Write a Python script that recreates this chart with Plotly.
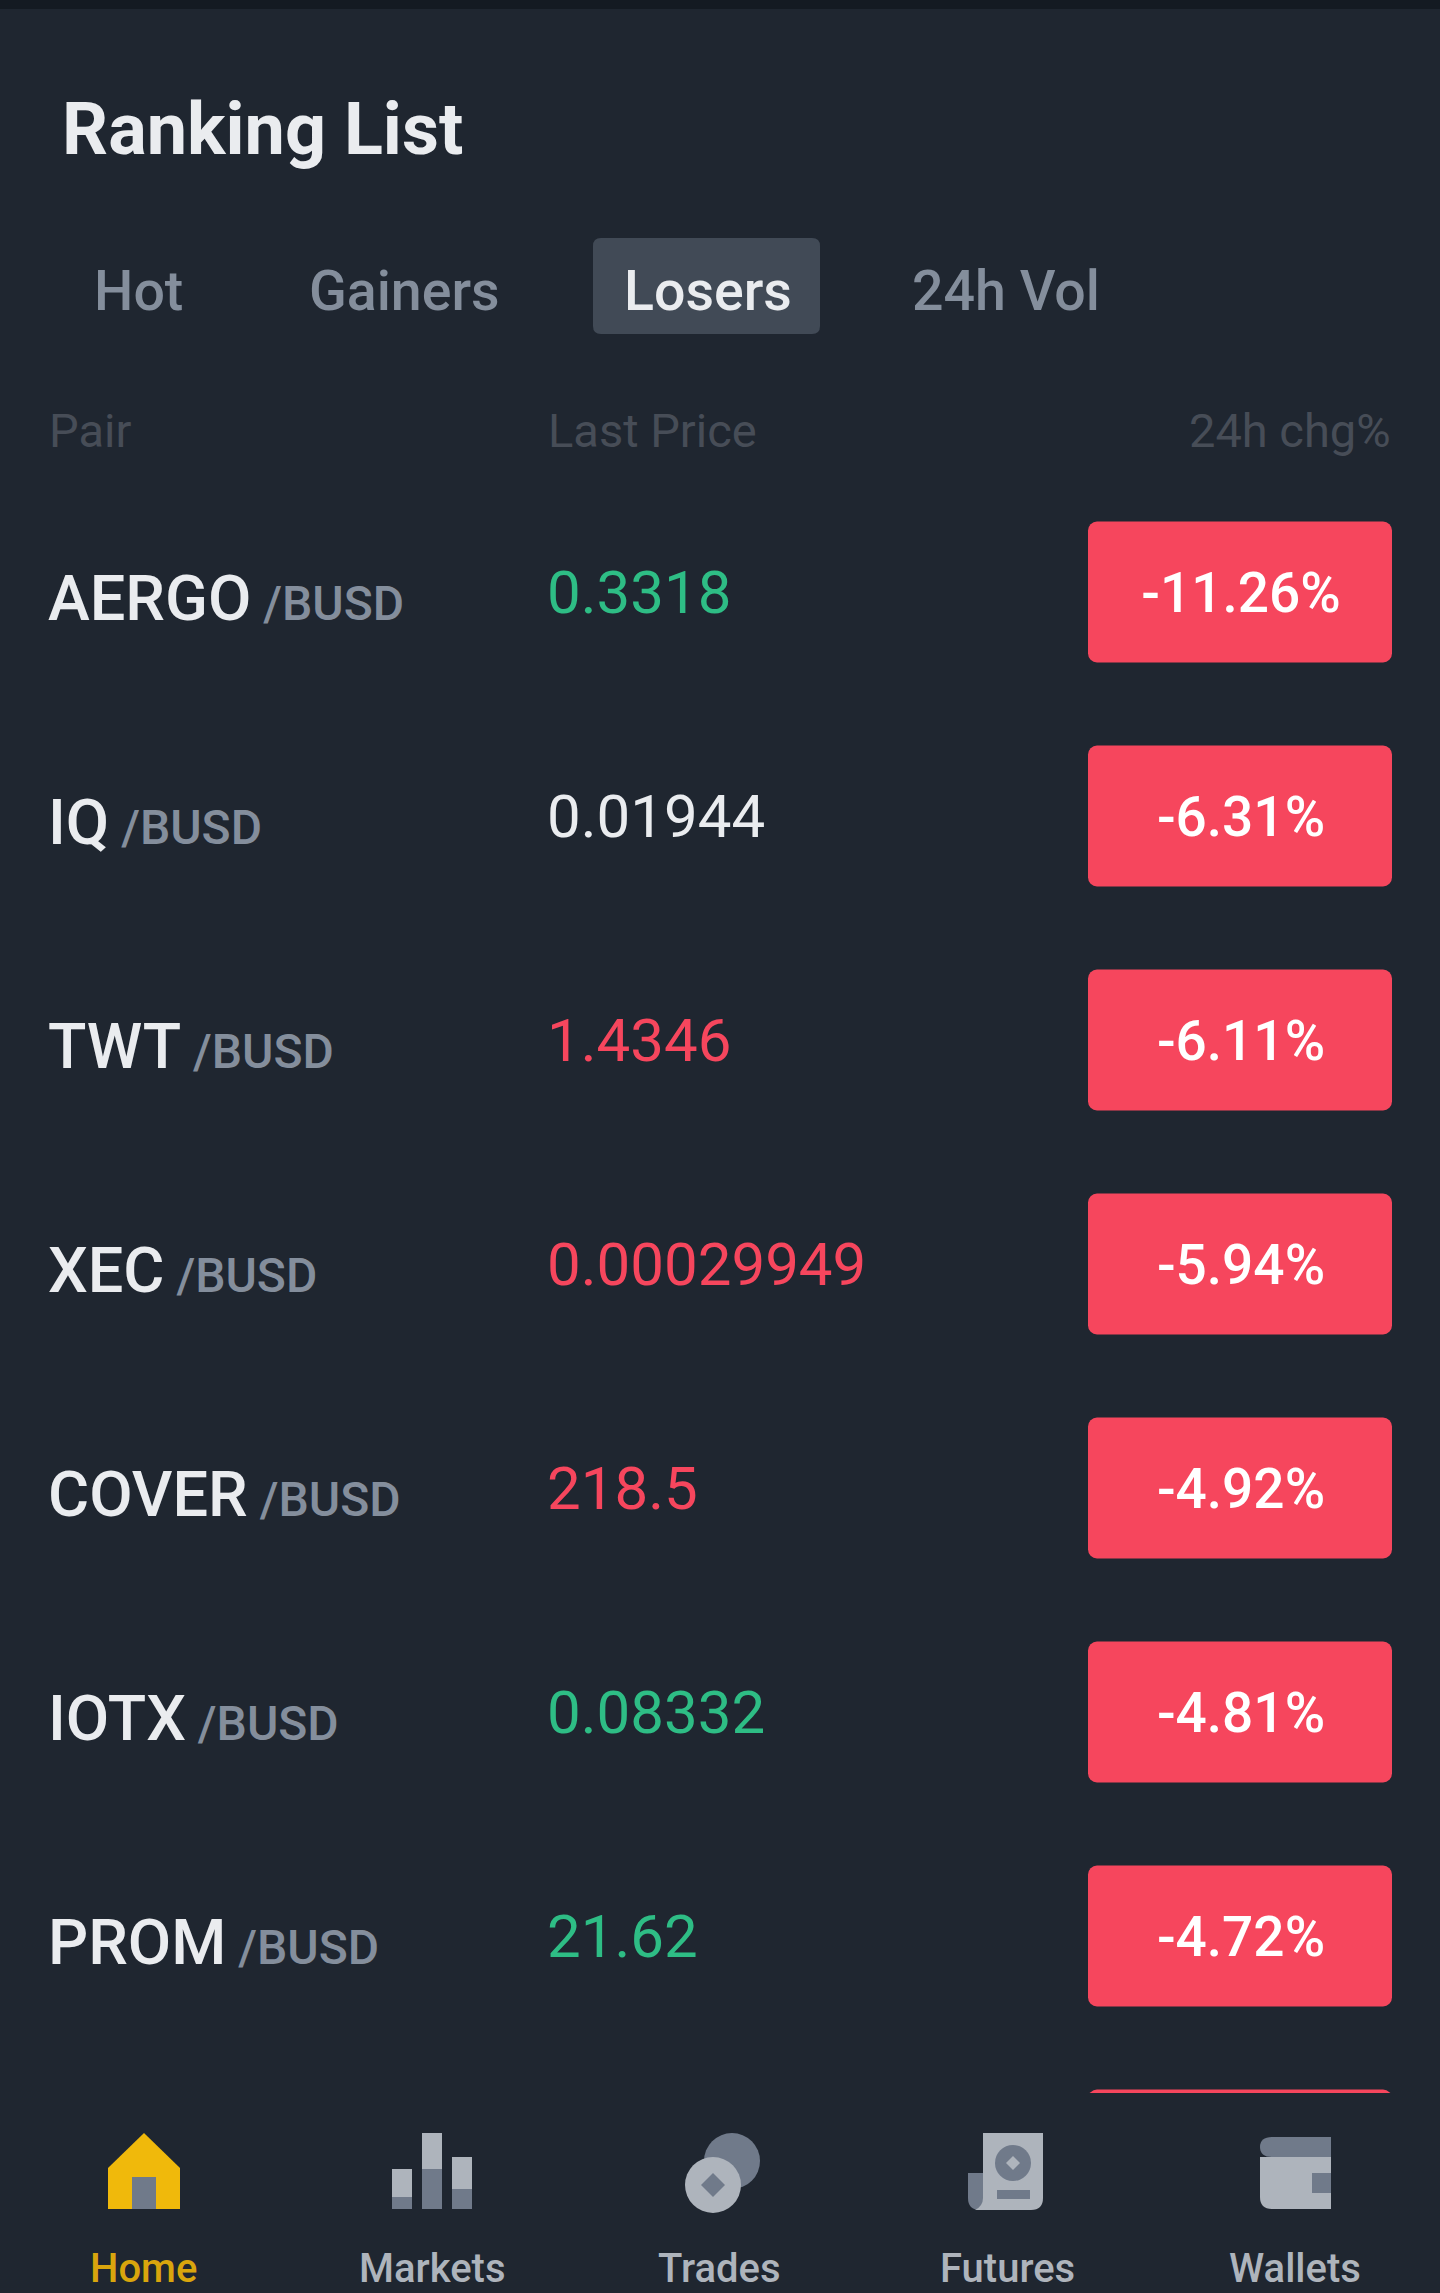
import plotly.graph_objects as go

# table values
pairs = ["AERGO", "IQ", "TWT", "XEC", "COVER", "IOTX", "PROM", ""]
quote = "/BUSD"
prices = ["0.3318", "0.01944", "1.4346", "0.00029949", "218.5", "0.08332", "21.62", ""]
price_dirs = ["up", "flat", "down", "down", "down", "up", "up", "flat"]
changes = [-11.26, -6.31, -6.11, -5.94, -4.92, -4.81, -4.72, None]
tabs = ["Hot", "Gainers", "Losers", "24h Vol"]
nav_labels = ["Home", "Markets", "Trades", "Futures", "Wallets"]

BG = "#1f2630"
RED = "#f6465d"
GREEN = "#2ebd85"
WHITE = "#eaecef"
GREY = "#848e9c"
DIM = "#474d57"
YELLOW = "#f0b90b"
LIGHT = "#aeb4bc"
DARK = "#707a8a"
FONT = "Roboto"

dir_colors = {"up": GREEN, "down": RED, "flat": WHITE}
rows = [592 + 224 * i for i in range(len(pairs))]
chg_text = ["" if c is None else f"{c:.2f}%" for c in changes]

fig = go.Figure()

# red chips
fig.add_trace(go.Bar(y=rows, x=[304] * len(rows), base=1088, width=141, orientation="h",
                     marker=dict(color=RED, line=dict(width=0)), hoverinfo="skip"))
fig.add_trace(go.Scatter(x=[1241] * len(rows), y=[r + 6 for r in rows], mode="text", text=chg_text,
                         textposition="middle center",
                         textfont=dict(family=FONT, size=55, color="#ffffff", weight=500),
                         hoverinfo="skip"))

# pair names with the quote currency in the same string
pair_text = [f"{p}<span style='font-size:48px;color:{GREY}'> {quote}</span>" if p else "" for p in pairs]
fig.add_trace(go.Scatter(x=[48] * len(rows), y=[r + 12 for r in rows], mode="text", text=pair_text,
                         textposition="middle right",
                         textfont=dict(family=FONT, size=63, color=WHITE, weight=500), hoverinfo="skip"))

fig.add_trace(go.Scatter(x=[547] * len(rows), y=[r + 6 for r in rows], mode="text", text=prices,
                         textposition="middle right",
                         textfont=dict(family=FONT, size=60, color=[dir_colors[d] for d in price_dirs]),
                         hoverinfo="skip"))

shapes = [
    dict(type="rect", x0=0, x1=1440, y0=0, y1=9, fillcolor="#141a22", line_width=0),
    dict(type="path", path="M601,238 H812 Q820,238 820,246 V326 Q820,334 812,334 H601 Q593,334 593,326 V246 Q593,238 601,238 Z",
         fillcolor="#414a56", line_width=0, layer="below"),
    # covers the eighth row behind the tab bar
    dict(type="rect", x0=0, x1=1440, y0=2093, y1=2293, fillcolor=BG, line_width=0),
    # home
    dict(type="path", path="M144,2133 L180,2168 V2209 H108 V2168 Z", fillcolor=YELLOW, line_width=0),
    dict(type="rect", x0=132, x1=156, y0=2177, y1=2209, fillcolor=DARK, line_width=0),
    # markets
    dict(type="rect", x0=392, x1=412, y0=2169, y1=2197, fillcolor=LIGHT, line_width=0),
    dict(type="rect", x0=392, x1=412, y0=2197, y1=2209, fillcolor=DARK, line_width=0),
    dict(type="rect", x0=422, x1=442, y0=2133, y1=2169, fillcolor=LIGHT, line_width=0),
    dict(type="rect", x0=422, x1=442, y0=2169, y1=2209, fillcolor=DARK, line_width=0),
    dict(type="rect", x0=452, x1=472, y0=2157, y1=2189, fillcolor=LIGHT, line_width=0),
    dict(type="rect", x0=452, x1=472, y0=2189, y1=2209, fillcolor=DARK, line_width=0),
    # trades
    dict(type="circle", x0=704, x1=760, y0=2133, y1=2189, fillcolor=DARK, line_width=0),
    dict(type="circle", x0=685, x1=741, y0=2157, y1=2213, fillcolor=LIGHT, line_width=0),
    dict(type="path", path="M713,2173 L725,2185 L713,2197 L701,2185 Z", fillcolor=DARK, line_width=0),
    # futures
    dict(type="path", path="M968,2173 H990 V2210 H980 Q968,2210 968,2198 Z", fillcolor=DARK, line_width=0),
    dict(type="path", path="M983,2133 H1043 V2198 Q1043,2210 1031,2210 H975 Q983,2206 983,2198 Z", fillcolor=LIGHT, line_width=0),
    dict(type="circle", x0=995, x1=1031, y0=2145, y1=2181, fillcolor=DARK, line_width=0),
    dict(type="path", path="M1013,2156 L1020,2163 L1013,2170 L1006,2163 Z", fillcolor=LIGHT, line_width=0),
    dict(type="rect", x0=997, x1=1030, y0=2190, y1=2199, fillcolor=DARK, line_width=0),
    # wallets
    dict(type="path", path="M1260,2157 H1331 V2209 H1272 Q1260,2209 1260,2197 Z", fillcolor=LIGHT, line_width=0),
    dict(type="path", path="M1272,2137 H1331 V2157 H1272 Q1260,2157 1260,2147 Q1260,2137 1272,2137 Z", fillcolor=DARK, line_width=0),
    dict(type="rect", x0=1312, x1=1331, y0=2173, y1=2193, fillcolor=DARK, line_width=0),
]

annotations = []

def label(text, x, y, size, color, anchor="left", weight=None):
    annotations.append(dict(text=text, x=x, y=y, xref="x", yref="y", showarrow=False,
                            xanchor=anchor, yanchor="middle", align=anchor,
                            font=dict(family=FONT, size=size, color=color, weight=weight)))

label("Ranking List", 60, 129, 72, WHITE, weight=700)
tab_x = [138, 404, 708, 1006]
for t, x in zip(tabs, tab_x):
    label(t, x, 291, 55.5, WHITE if t == "Losers" else GREY, anchor="center", weight=500)
label("Pair", 47, 430, 47, DIM)
label("Last Price", 546, 430, 47, DIM)
label("24h chg%", 1393, 430, 47, DIM, anchor="right")

nav_x = [143, 432, 719, 1007, 1295]
for t, x in zip(nav_labels, nav_x):
    label(t, x, 2268, 40, "#d9a50d" if t == "Home" else LIGHT, anchor="center", weight=500)

fig.update_layout(
    width=1440, height=2293,
    margin=dict(l=0, r=0, t=0, b=0),
    paper_bgcolor=BG, plot_bgcolor=BG,
    showlegend=False,
    barcornerradius=9,
    shapes=shapes,
    annotations=annotations,
    xaxis=dict(range=[0, 1440], visible=False, fixedrange=True),
    yaxis=dict(range=[2293, 0], visible=False, fixedrange=True),
)

# page has a default body margin, the screenshot is edge to edge
fig.write_html("out.html", config=dict(displayModeBar=False),
               post_script="document.body.style.margin='0';document.documentElement.style.overflow='hidden';")
